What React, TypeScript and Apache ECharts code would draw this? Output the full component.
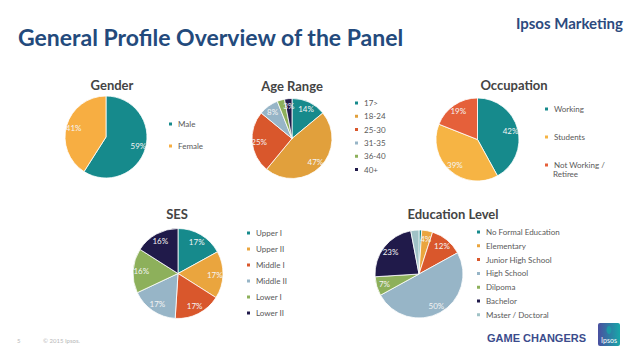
import React, { useEffect, useRef } from "react";
import * as echarts from "echarts";

// ---- data ----
const genderNames = ["Male", "Female"];
const genderValues = [59, 41];

const ageNames = ["17>", "18-24", "25-30", "31-35", "36-40", "40+"];
const ageValues = [14, 47, 25, 8, 3, 3];

const occupationNames = ["Working", "Students", "Not Working / Retiree"];
const occupationValues = [42, 39, 19];

const sesNames = ["Upper I", "Upper II", "Middle I", "Middle II", "Lower I", "Lower II"];
const sesValues = [17, 17, 17, 17, 16, 16];

const eduNames = [
  "No Formal Education",
  "Elementary",
  "Junior High School",
  "High School",
  "Dilpoma",
  "Bachelor",
  "Master / Doctoral",
];
const eduValues = [1, 4, 12, 50, 7, 23, 3];

// ---- styles ----
const FONT = "Lato";
const TEAL = "#168a8c";
const RED = "#d9572c";
const LBLUE = "#97b5c7";
const GREEN = "#8db05b";
const NAVY = "#201a4a";

const pies = [
  {
    id: "gender", title: "Gender", names: genderNames, values: genderValues,
    colors: [TEAL, "#f7ae42"], center: [106, 137], r: 41, titlePos: [112, 85],
    legend: { left: 167, top: 119, gap: 12 },
  },
  {
    id: "age", title: "Age Range", names: ageNames, values: ageValues,
    colors: [TEAL, "#e1a03c", RED, LBLUE, GREEN, NAVY], center: [292, 138.5], r: 40, titlePos: [292, 86],
    legend: { left: 353, top: 98, gap: 3.3 },
  },
  {
    id: "occupation", title: "Occupation", names: occupationNames, values: occupationValues,
    colors: [TEAL, "#f6b444", "#e5603a"], center: [477.5, 139.5], r: 41.5, titlePos: [514, 85],
    legend: { left: 543, top: 104, gap: 18 },
  },
  {
    id: "ses", title: "SES", names: sesNames, values: sesValues,
    colors: [TEAL, "#eaa53e", RED, LBLUE, GREEN, NAVY], center: [178, 273.5], r: 45, titlePos: [177, 214],
    legend: { left: 245, top: 228, gap: 6 },
  },
  {
    id: "edu", title: "Education Level", names: eduNames, values: eduValues,
    colors: [TEAL, "#eaa53e", RED, LBLUE, GREEN, NAVY, "#a0c2c6"], center: [419, 274], r: 44, titlePos: [453, 214],
    legend: { left: 475, top: 227, gap: 3.8 },
  },
];

export default function App() {
  const ref = useRef<HTMLDivElement>(null);

  useEffect(() => {
    if (!ref.current) return;
    const chart = echarts.init(ref.current, undefined, { renderer: "svg" });

    const series: any[] = [];
    pies.forEach((p) => {
      const data = p.names.map((n, i) => ({
        name: n,
        value: p.values[i],
        itemStyle: { color: p.colors[i] },
      }));
      series.push({
        type: "pie",
        name: p.title,
        center: p.center,
        radius: [0, p.r],
        startAngle: 90,
        clockwise: true,
        avoidLabelOverlap: false,
        label: { show: false },
        labelLine: { show: false },
        itemStyle: { borderColor: "#ffffff", borderWidth: 0.8 },
        emphasis: { disabled: true },
        data,
      });
      // transparent ring used only to place the value labels further out
      series.push({
        type: "pie",
        name: p.title + " labels",
        center: p.center,
        radius: [p.r * 0.5, p.r],
        startAngle: 90,
        clockwise: true,
        silent: true,
        avoidLabelOverlap: false,
        label: {
          show: true,
          position: "inside",
          formatter: "{c}%",
          fontFamily: FONT,
          fontSize: 8,
          color: "#f4f4f4",
        },
        labelLine: { show: false },
        itemStyle: { color: "rgba(0,0,0,0)", borderWidth: 0 },
        emphasis: { disabled: true },
        data: p.names.map((n, i) => ({ name: n, value: p.values[i], itemStyle: { color: "rgba(0,0,0,0)" } })),
      });
    });

    const legends = pies.map((p) => ({
      orient: "vertical",
      left: p.legend.left,
      top: p.legend.top,
      padding: 0,
      itemGap: p.legend.gap,
      itemWidth: 5,
      itemHeight: 5,
      icon: "rect",
      selectedMode: false,
      data: p.names,
      formatter:
        p.id === "occupation"
          ? (n: string) => (n.indexOf(" / ") >= 0 ? n.split(" / ")[0] + " /" : n)
          : undefined,
      textStyle: { fontFamily: FONT, fontSize: 8, color: "#595959", lineHeight: 10 },
    }));

    const graphic: any[] = [
      {
        type: "text", x: 18, y: 37,
        style: { text: "General Profile Overview of the Panel", fontFamily: FONT, fontSize: 23, fontWeight: "bold", fill: "#234a7c", verticalAlign: "middle" },
      },
      {
        type: "text", x: 623, y: 23,
        style: { text: "Ipsos Marketing", fontFamily: FONT, fontSize: 15, fontWeight: "bold", fill: "#2c4a7e", align: "right", verticalAlign: "middle" },
      },
      ...pies.map((p) => ({
        type: "text", x: p.titlePos[0], y: p.titlePos[1],
        style: { text: p.title, fontFamily: FONT, fontSize: 13, fontWeight: "bold", fill: "#444444", align: "center", verticalAlign: "middle" },
      })),
      {
        type: "text", x: 553, y: 174,
        style: { text: "Retiree", fontFamily: FONT, fontSize: 8, fill: "#595959", verticalAlign: "middle" },
      },
      {
        type: "text", x: 17, y: 340,
        style: { text: "5", fontFamily: FONT, fontSize: 6, fill: "#b8b8b8", verticalAlign: "middle" },
      },
      {
        type: "text", x: 43, y: 340,
        style: { text: "© 2015 Ipsos.", fontFamily: FONT, fontSize: 6, fill: "#b8b8b8", verticalAlign: "middle" },
      },
      {
        type: "text", x: 487, y: 338,
        style: { text: "GAME CHANGERS", fontFamily: "Liberation Sans", fontSize: 11, fontWeight: "bold", fill: "#3b4c8c", verticalAlign: "middle" },
      },
      {
        type: "rect",
        shape: { x: 598, y: 323, width: 22, height: 23, r: 2 },
        style: {
          fill: new echarts.graphic.LinearGradient(0, 0, 1, 0, [
            { offset: 0, color: "#4a4fa0" },
            { offset: 1, color: "#17a6a8" },
          ]),
        },
      },
      {
        type: "ellipse",
        shape: { cx: 609, cy: 330, rx: 2.5, ry: 4 },
        style: { fill: "#1e9aa6" },
      },
      {
        type: "text", x: 609, y: 340,
        style: { text: "Ipsos", fontFamily: FONT, fontSize: 7, fill: "#ffffff", align: "center", verticalAlign: "middle" },
      },
    ];

    chart.setOption({
      animation: false,
      backgroundColor: "#ffffff",
      legend: legends,
      series,
      graphic,
    });

    return () => chart.dispose();
  }, []);

  return (
    <div
      ref={ref}
      style={{ position: "fixed", left: 0, top: 0, width: 638, height: 359 }}
    />
  );
}
